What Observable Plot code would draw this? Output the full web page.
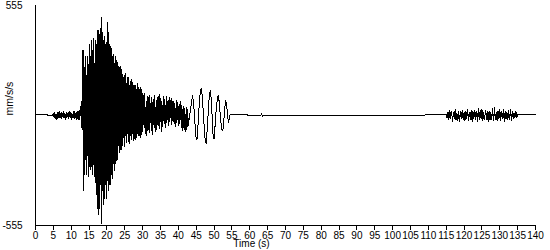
<!DOCTYPE html>
<html>
<head>
<meta charset="utf-8">
<script src="https://cdn.jsdelivr.net/npm/d3@7"></script>
<script src="https://cdn.jsdelivr.net/npm/@observablehq/plot@0.6"></script>
<style>
  html, body { margin: 0; padding: 0; background: #fff; }
</style>
</head>
<body>
<div id="chart"></div>
<script>
// ---- Data (mm/s/s) ----
const xTicks = [0,5,10,15,20,25,30,35,40,45,50,55,60,65,70,75,80,85,90,95,100,105,110,115,120,125,130,135,140];
const yTicks = [-555, 555];

// quiet start: [time, value]
const startPts = [[0, 5], [3.3, 5], [3.4, 0], [4.8, 0]];

// pre-event noise, t = 4.8 .. 12.6 step 0.2
const noiseStart = [0, 12, -10, 18, -15, 8, -20, 15, -8, 22, -12, 10, -18, 14, -6, 20, -14, 9, -22, 16,
  -10, 12, -16, 20, -8, 14, -20, 10, -12, 18, -15, 22, -10, 14, -24, 18, -20, 26, -22, 30];

// main burst, t = 12.7 .. 29.9 step 0.1
const burst = [
  45, -60, 70, -50, 80, -70,
  330, -380, 180, -260, 240, -300, 210,
  -220, 300, -300, 200, -260, 300, -200, 260, -310, 240,
  -260, 360, -220, 300, -270, 260, -250, 380, -260, 280,
  -300, 330, -250, 390, -310, 260, -280, 380, -340, 300,
  -400, 360, -300, 420, -470, 430, -500, 360, -400, 410,
  -470, 400, -350, 440, -430, 495, -545, 420, -380, 360,
  -450, 380, -330, 400, -420, 360, -350, 320, -420, 370,
  -400, 470, -330, 420, -380, 330, -350, 360, -300, 350,
  -350, 300, -300, 340, -260, 300, -320, 270, -240, 310,
  -280, 260, -220, 300, -240, 230, -230, 280, -200, 250,
  -220, 270, -150, 200, -190, 240, -130, 210, -170, 250,
  -170, 230, -120, 190, -150, 210, -110, 170, -160, 200,
  -150, 180, -100, 210, -130, 160, -140, 190, -90, 170,
  -130, 190, -80, 150, -140, 170, -100, 140, -120, 180,
  -110, 160, -90, 170, -125, 130, -80, 150, -115, 140,
  -120, 150, -70, 130, -110, 160, -90, 120, -100, 140,
  -100, 130, -80, 140, -110, 120, -70, 130, -95, 110
];

// coda, t = 30.0 .. 42.8 step 0.2
const coda = [
  -80, 100, -60, 110, -90, 70, -100, 95, -70, 105,
  -85, 60, -75, 90, -95, 80, -60, 100, -80, 75,
  -70, 90, -50, 110, -65, 85, -80, 70, -55, 95,
  -40, 80, -60, 95, -35, 70, -50, 90, -30, 75,
  -45, 85, -25, 70, -40, 60, -55, 75, -35, 65,
  -50, 55, -40, 70, -60, 50, -75, 45, -70, 35,
  -80, 40, -70, 30, -50
];

// surface waves, t = 43.0 .. 54.5 step 0.25
const surface = [
  -20, 10, 40, 75, 100, 60, 5, -70, -120, -115,
  -50, 30, 95, 130, 136, 80, 10, -60, -125, -141,
  -90, -20, 60, 115, 126, 70, -20, -110, -116, -60,
  10, 60, 95, 100, 55, 0, -50, -75, -70, -20,
  40, 76, 60, 5, -35, -20, 5
];

// quiet middle: [time, value]
const middlePts = [[54.75, 5], [59.3, 5], [59.4, 0], [63, 0], [63.3, 8], [63.6, -5], [63.9, 0],
  [109, 0], [109.2, 5], [114.8, 5]];

// late noise, t = 115.0 .. 135.0 step 0.25
const lateNoise = [
  5, -12, 18, -20, 25, -15, 22, -28, 15, -18,
  30, -22, 12, -25, 20, -30, 18, -14, 28, -20,
  15, -26, 22, -18, 32, -24, 16, -20, 26, -30,
  20, -15, 28, -22, 18, -28, 35, -20, 24, -16,
  30, -25, 14, -22, 27, -18, 22, -32, 20, -24,
  16, -20, 34, -26, 38, -22, 18, -28, 25, -18,
  30, -24, 20, -16, 28, -30, 22, -18, 15, -20,
  26, -22, 30, -25, 18, -15, 12, -10, 20, -8, 3
];

// quiet end: [time, value]
const endPts = [[135.25, 5], [140, 5]];

// ---- Build the table ----
const rows = [];
const addPts = (pts) => pts.forEach(([t, v]) => rows.push({t, v}));
const addSeg = (t0, dt, vals) => vals.forEach((v, i) => rows.push({t: +(t0 + i * dt).toFixed(3), v}));
addPts(startPts);
addSeg(4.8, 0.2, noiseStart);
addSeg(12.7, 0.1, burst);
addSeg(30.0, 0.2, coda);
addSeg(43.0, 0.25, surface);
addPts(middlePts);
addSeg(115.0, 0.25, lateNoise);
addPts(endPts);

const font = "'Liberation Sans', Arial, sans-serif";

const chart = Plot.plot({
  width: 550,
  height: 250,
  marginLeft: 35,
  marginRight: 15,
  marginTop: 5,
  marginBottom: 25,
  style: {fontFamily: font, fontSize: "10px", color: "#000", background: "#fff"},
  x: {domain: [0, 140]},
  y: {domain: [-555, 555]},
  marks: [
    Plot.ruleX([0], {y1: -555, y2: 555, stroke: "#000", shapeRendering: "crispEdges"}),
    Plot.ruleY([-555], {x1: 0, x2: 140, stroke: "#000", shapeRendering: "crispEdges"}),
    Plot.axisX({ticks: xTicks, tickSize: 5, tickPadding: 1, label: null, tickFormat: d => String(d), stroke: "#000", shapeRendering: "crispEdges"}),
    Plot.axisY({ticks: yTicks, tickSize: 0, tickPadding: 13, label: null, tickFormat: d => String(d)}),
    Plot.line(rows, {x: "t", y: "v", stroke: "#000", strokeWidth: 1, shapeRendering: "crispEdges"}),
    Plot.text(["Time (s)"], {frameAnchor: "bottom", dx: -34, dy: 21.5, fontSize: 10, fill: "#000"}),
    Plot.text(["mm/s/s"], {frameAnchor: "left", rotate: -90, dx: -26, fontSize: 10.5, fill: "#000"})
  ]
});
document.getElementById("chart").appendChild(chart);
</script>
</body>
</html>
